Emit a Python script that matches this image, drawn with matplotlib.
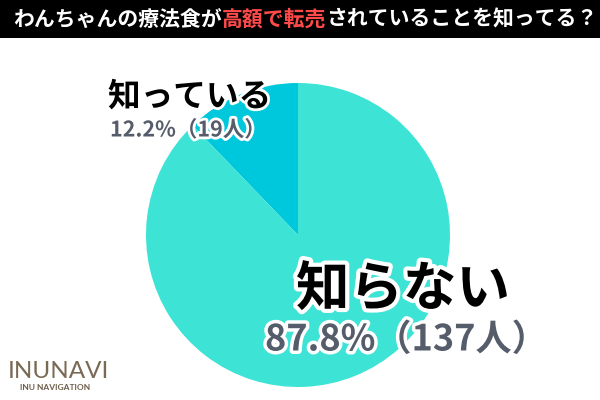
import matplotlib
matplotlib.use("Agg")
import matplotlib.pyplot as plt
import matplotlib.patheffects as pe

labels = ["知っている", "知らない"]
values = [12.2, 87.8]
counts = [19, 137]
colors = ["#00c8dc", "#3de3d5"]
title_parts = [("わんちゃんの療法食が", "white"), ("高額で転売", "#ff4a4a"), ("されていることを知ってる？", "white")]

JP = "Noto Sans CJK JP"
fig = plt.figure(figsize=(6, 4), dpi=100)
fig.patch.set_facecolor("white")

def P(x, y):
    return x / 600, 1 - y / 400

bar = fig.add_axes([0, 1 - 38 / 400, 1, 38 / 400])
bar.set_facecolor("black"); bar.set_xticks([]); bar.set_yticks([])
for s in bar.spines.values(): s.set_visible(False)

r = fig.canvas.get_renderer()
x = 13
for txt, c in title_parts:
    t = fig.text(*P(x, 19), txt, color=c, fontsize=15, fontweight="bold", family=JP, va="center", ha="left")
    x += t.get_window_extent(r).width

cx, cy, rad = 298, 235, 152
ax = fig.add_axes([(cx - rad) / 600, 1 - (cy + rad) / 400, 2 * rad / 600, 2 * rad / 400])
ax.pie(values, colors=colors, startangle=90, counterclock=True, radius=1)
ax.set_xlim(-1, 1); ax.set_ylim(-1, 1); ax.set_aspect("equal"); ax.axis("off")

st = [pe.withStroke(linewidth=4, foreground="white")]
fig.text(*P(108, 97), labels[0], fontsize=23.5, fontweight="bold", family=JP, va="center", color="black", path_effects=st)
fig.text(*P(110, 130), f"{values[0]}%（{counts[0]}人）", fontsize=15.5, fontweight="bold", family=JP, va="center", color="#555c6a", path_effects=st)
fig.text(*P(296, 290), labels[1], fontsize=38.5, fontweight="bold", family=JP, va="center", color="black", path_effects=[pe.withStroke(linewidth=6, foreground="white")])
fig.text(*P(265, 340), f"{values[1]}%（{counts[1]}人）", fontsize=26, fontweight="bold", family=JP, va="center", color="#555c6a", path_effects=[pe.withStroke(linewidth=5, foreground="white")])

fig.text(*P(8, 371), "INUNAVI", fontsize=17.5, fontweight="normal", family="Lato", va="center", color="#7a6a55")
fig.text(*P(20, 388), "INU NAVIGATION", fontsize=6, fontweight="bold", family="Lato", va="center", color="#6b5c48")

fig.savefig("out.png", dpi=100)
